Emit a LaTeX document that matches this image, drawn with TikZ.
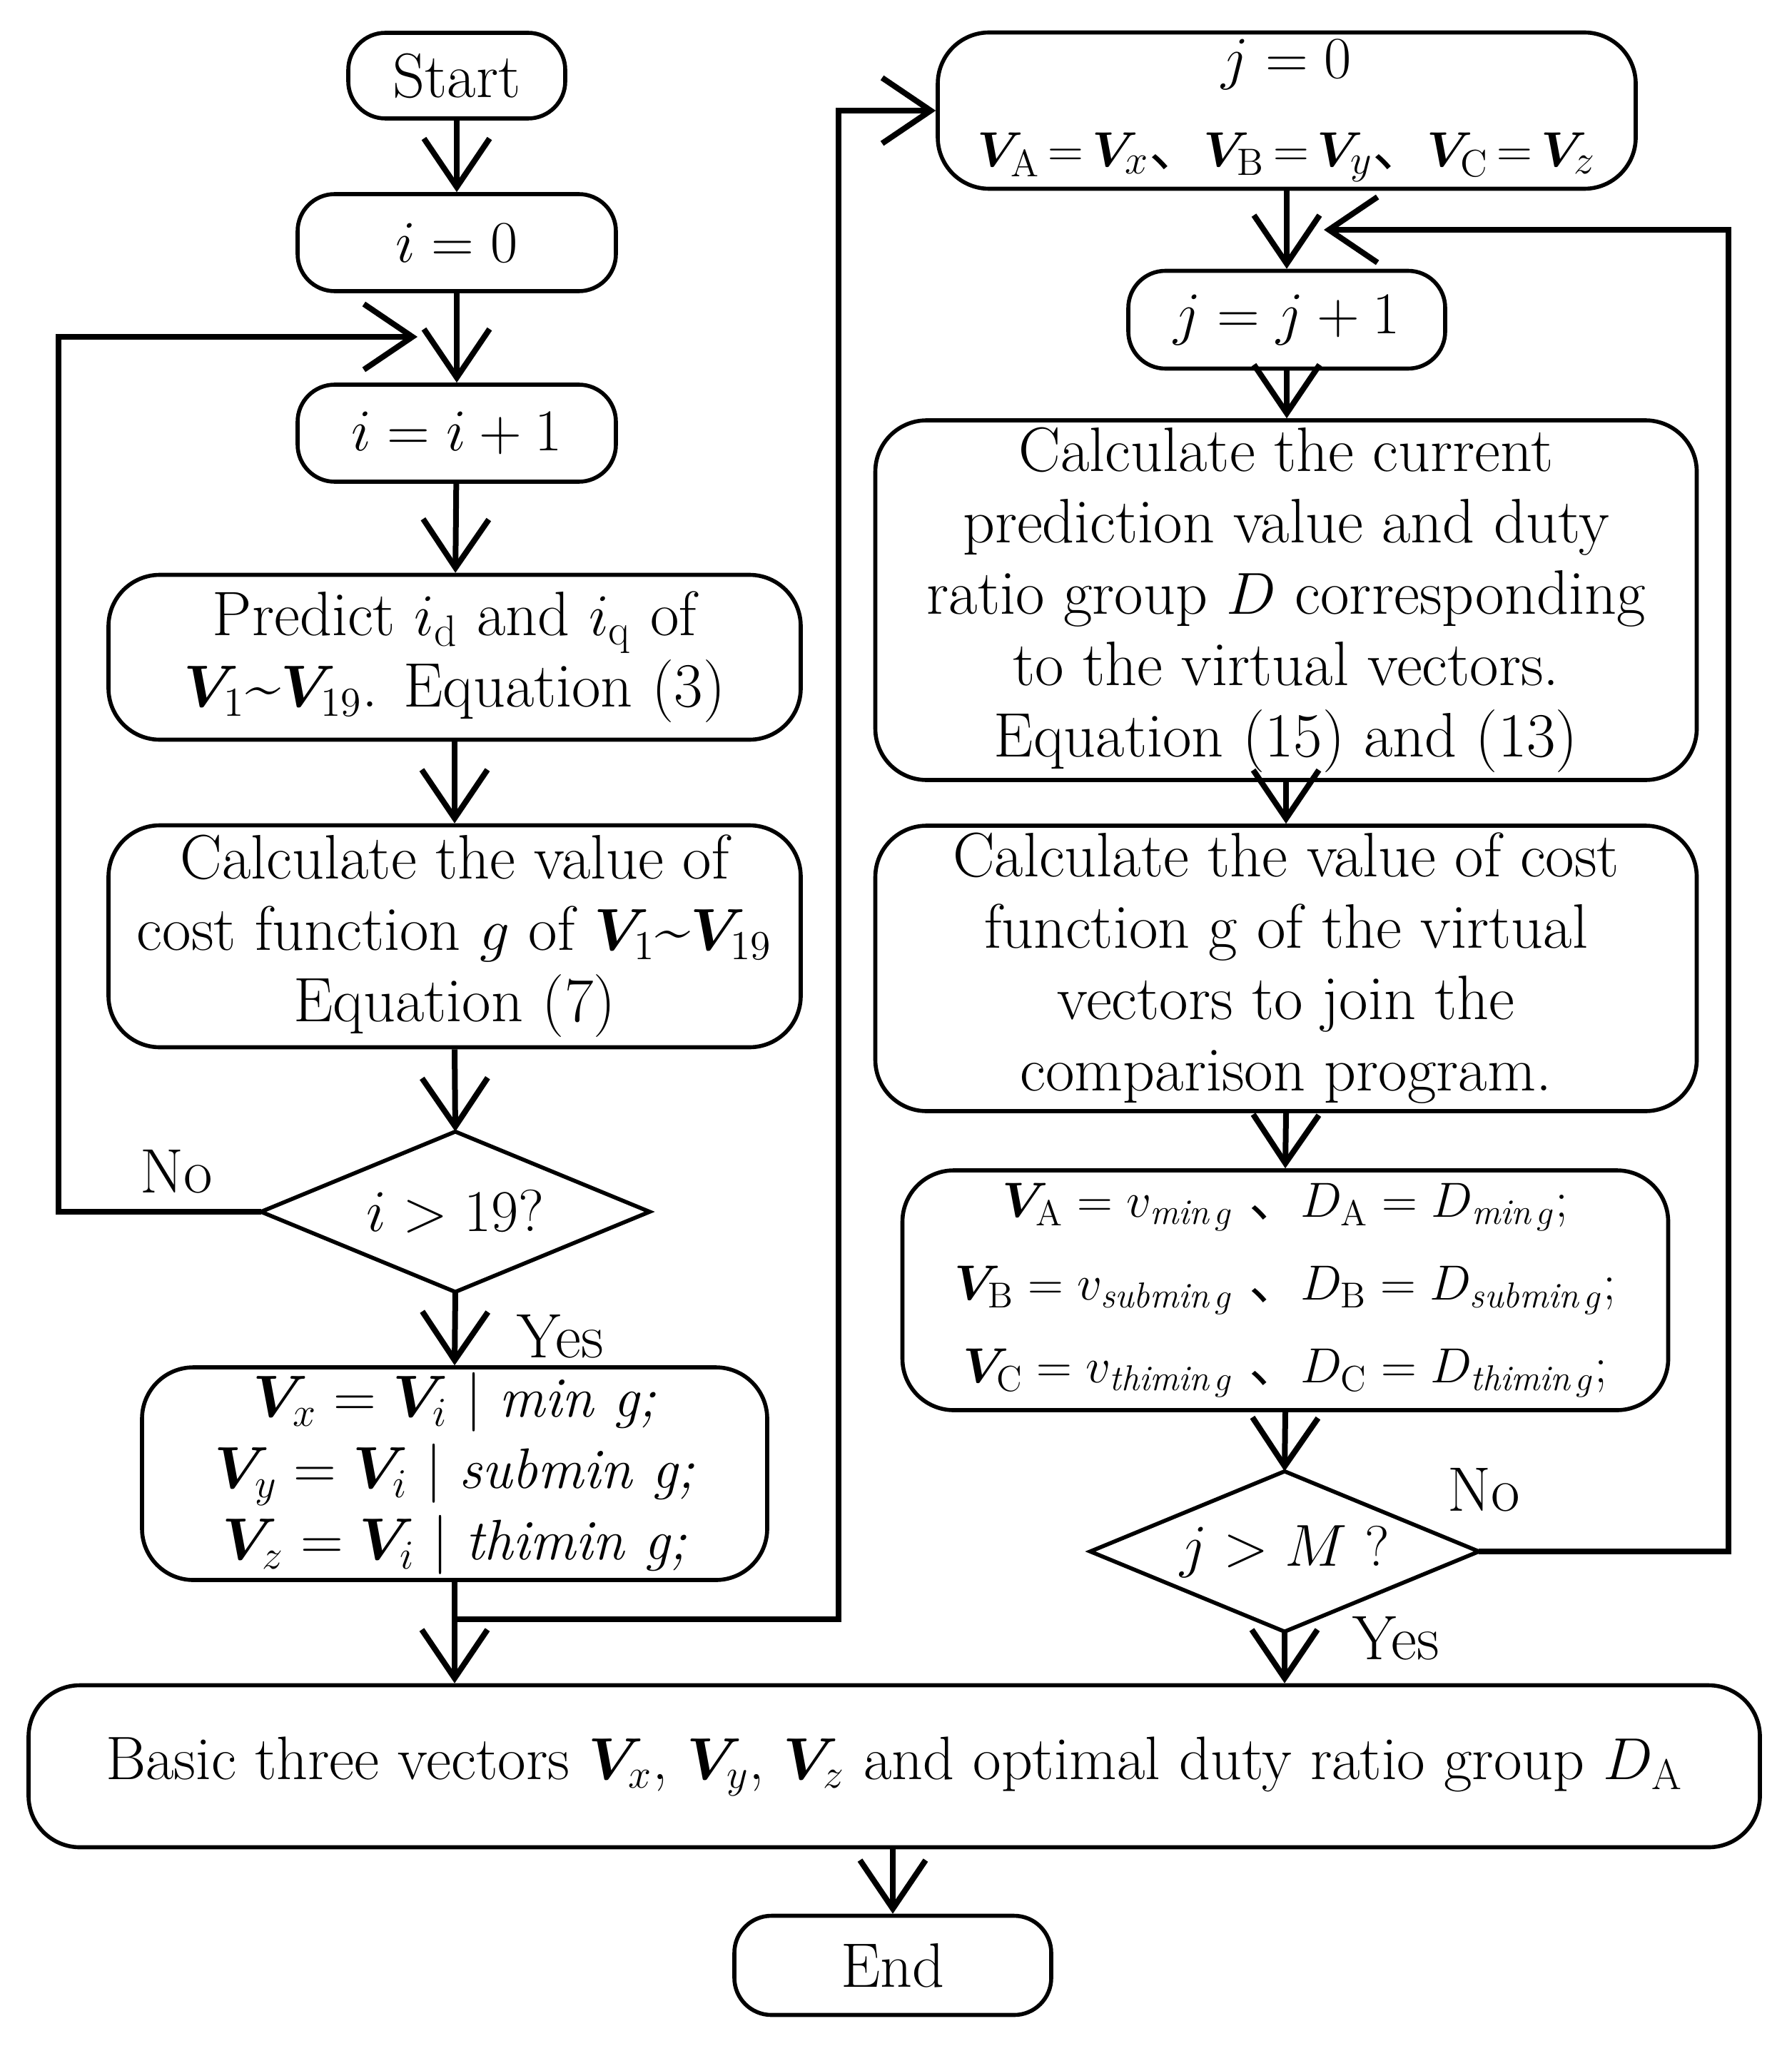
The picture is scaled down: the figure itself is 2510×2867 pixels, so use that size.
\documentclass[tikz,border=0pt]{standalone}
\usepackage{amsmath,bm}
\usepackage{fontspec}
\newfontfamily\cjk{Noto Sans CJK SC}
\usetikzlibrary{arrows.meta}
\newcommand{\bV}{\boldsymbol{V}}
\newcommand{\dun}{{\cjk 、}}
\newcommand{\teq}{\,{=}\,}
\begin{document}
\begin{tikzpicture}[x=0.25pt,y=-0.25pt,
  every node/.style={font=\fontsize{22}{25}\selectfont},
  small/.style={font=\fontsize{20}{25}\selectfont},
  box/.style={draw,line width=1.4pt,rounded corners=13pt,align=center,inner sep=0pt},
  bigbox/.style={box,rounded corners=18pt},
  dec/.style={inner sep=0pt,align=center},
  decline/.style={line width=1.4pt,line join=miter},
  conn/.style={line width=2pt},
  arr/.style={conn,-{Straight Barb[length=17pt,width=23pt,line width=2pt]}},
  lab/.style={inner sep=0pt}]
\useasboundingbox (0,0) rectangle (2510,2867);
% left column
\node[box,minimum width=76pt,minimum height=30pt] (start) at (640,106) {Start};
\node[box,small,minimum width=111.5pt,minimum height=34pt] (i0) at (640,340) {$i = 0$};
\node[box,small,minimum width=111.5pt,minimum height=34pt] (inc) at (640,607) {$i = i + 1$};
\node[bigbox,minimum width=242.5pt,minimum height=57.75pt] (pred) at (637,921)
  {Predict $i_{\mathrm{d}}$ and $i_{\mathrm{q}}$ of\\ $\bV_{1}$\textasciitilde$\bV_{19}$. Equation (3)};
\node[bigbox,minimum width=242.5pt,minimum height=77.75pt] (calc) at (637,1312)
  {Calculate the value of\\ cost function $g$ of $\bV_{1}$\textasciitilde$\bV_{19}$\\ Equation (7)};
\node[dec,small,minimum width=135.75pt,minimum height=55.75pt] (d1) at (638,1698) {$i > 19?$};
\draw[decline] (d1.west) -- (d1.north) -- (d1.east) -- (d1.south) -- cycle;
\node[bigbox,small,minimum width=219pt,minimum height=74.5pt] (sel) at (637,2065)
  {$\bV_{x} = \bV_{i}$ $|$ \textit{min g;}\\ $\bV_{y} = \bV_{i}$ $|$ \textit{submin g;}\\ $\bV_{z} = \bV_{i}$ $|$ \textit{thimin g;}};
% right column
\node[bigbox,minimum width=244.5pt,minimum height=54.75pt,font=\fontsize{19}{31}\selectfont] (j0) at (1803,155)
  {{\fontsize{21}{31}\selectfont $j = 0$}\\ $\bV_{\mathrm{A}}\teq\bV_{x}$\dun$\bV_{\mathrm{B}}\teq\bV_{y}$\dun$\bV_{\mathrm{C}}\teq\bV_{z}$};
\node[box,small,minimum width=111pt,minimum height=34.25pt] (jinc) at (1803,448) {$j = j + 1$};
\node[bigbox,minimum width=287.75pt,minimum height=126pt] (calcj) at (1802,841)
  {Calculate the current\\ prediction value and duty\\ ratio group $D$ corresponding\\ to the virtual vectors.\\ Equation (15) and (13)};
\node[bigbox,minimum width=287.75pt,minimum height=100pt] (costj) at (1802,1357)
  {Calculate the value of cost\\ function g of the virtual\\ vectors to join the\\ comparison program.};
\node[bigbox,minimum width=268.25pt,minimum height=84pt,font=\fontsize{18}{29}\selectfont] (va) at (1801,1808)
  {$\bV_{\mathrm{A}} = v_{\mathit{min}\,g}$ \dun$D_{\mathrm{A}} = D_{\mathit{min}\,g}$;\\
   $\bV_{\mathrm{B}} = v_{\mathit{submin}\,g}$ \dun$D_{\mathrm{B}} = D_{\mathit{submin}\,g}$;\\
   $\bV_{\mathrm{C}} = v_{\mathit{thimin}\,g}$ \dun$D_{\mathrm{C}} = D_{\mathit{thimin}\,g}$;};
\node[dec,small,minimum width=135.75pt,minimum height=55.75pt] (d2) at (1800,2174) {$j > M$ ?};
\draw[decline] (d2.west) -- (d2.north) -- (d2.east) -- (d2.south) -- cycle;
% bottom
\node[bigbox,minimum width=606.5pt,minimum height=56.75pt,font=\fontsize{21.5}{25}\selectfont] (basic) at (1253,2475)
  {Basic three vectors $\bV_{x}$, $\bV_{y}$, $\bV_{z}$ and optimal duty ratio group $D_{\mathrm{A}}$};
\node[box,minimum width=111pt,minimum height=34.75pt] (end) at (1251,2754) {End};
% labels
\node[lab] (no1) at (247,1642) {No};
\node[lab] (yes1) at (785,1873) {Yes};
\node[lab] (no2) at (2079,2088) {No};
\node[lab] (yes2) at (1956,2296) {Yes};
% coordinates
\coordinate (loopin) at (585,472);
\coordinate (loopin2) at (1855,322);
\coordinate (split) at (640,2269);
% connectors
\draw[arr] (start) -- (i0);
\draw[arr] (i0) -- (inc);
\draw[arr] (inc) -- (pred);
\draw[arr] (pred) -- (calc);
\draw[arr] (calc.south) -- (d1.north);
\draw[arr] (d1.south) -- (sel.north);
\draw[arr] (d1.west) -- (82,1698) |- (loopin);
\draw[arr] (sel.south) -- (sel.south |- basic.north);
\draw[arr] (split) -- (1175,2269) |- (j0.west);
\draw[arr] (j0.south -| jinc.north) -- (jinc.north);
\draw[arr] (jinc) -- (calcj.north -| jinc.south);
\draw[arr] (calcj.south) -- (costj.north);
\draw[arr] (costj.south) -- (va.north);
\draw[arr] (va.south) -- (d2.north);
\draw[arr] (d2.south) -- (d2.south |- basic.north);
\draw[arr] (d2.east) -- (2422,2174) |- (loopin2);
\draw[arr] (basic.south -| end.north) -- (end.north);
\end{tikzpicture}
\end{document}
